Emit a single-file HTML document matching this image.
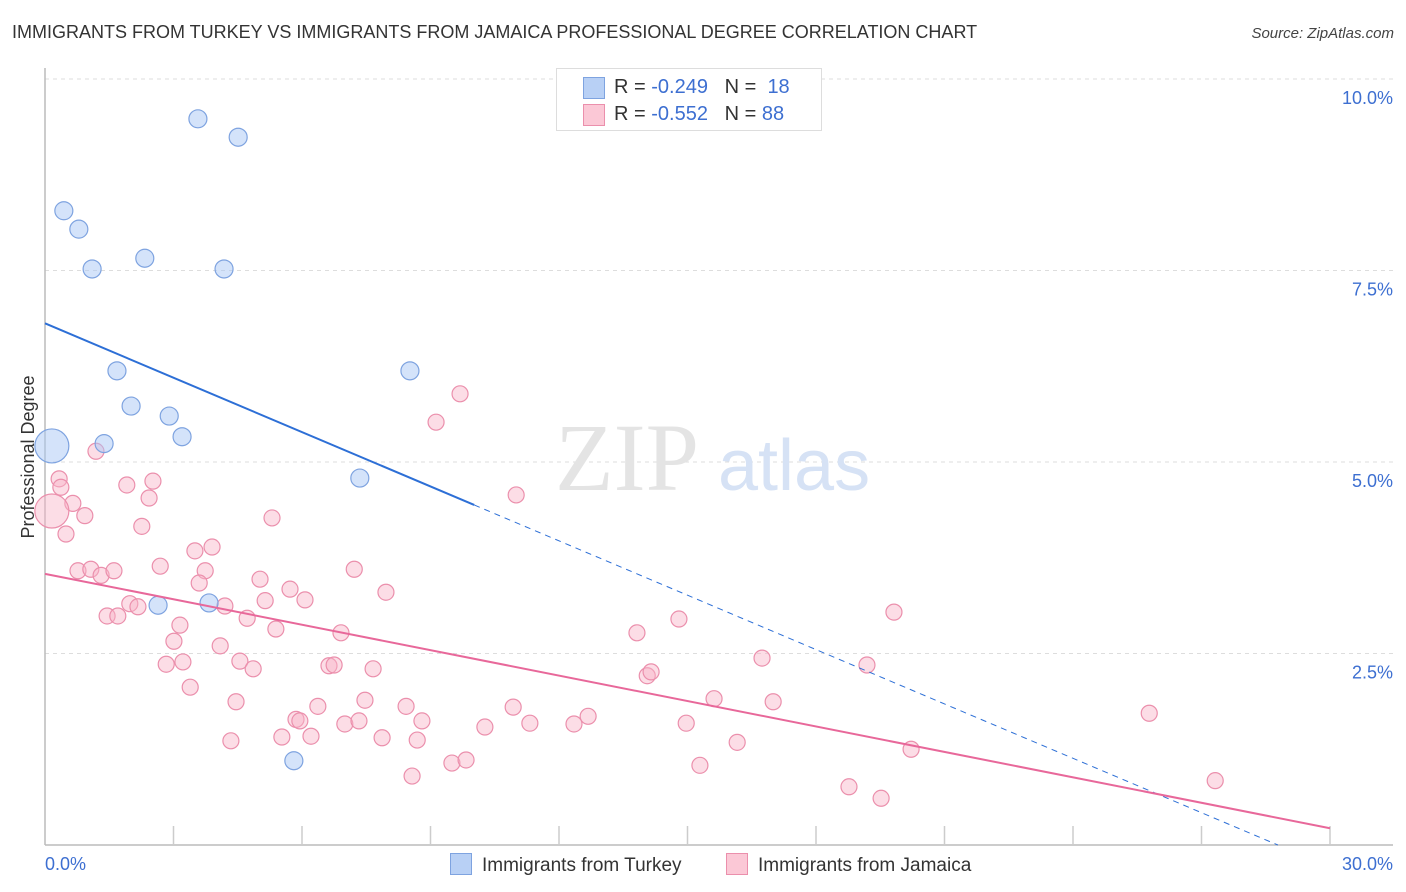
<!DOCTYPE html>
<html><head><meta charset="utf-8">
<style>
body{margin:0;background:#fff;font-family:"Liberation Sans",sans-serif;}
#wrap{position:relative;width:1406px;height:892px;overflow:hidden;}
.t{position:absolute;white-space:nowrap;}
</style></head>
<body>
<div id="wrap">
<div class="t" style="left:12px;top:22px;font-size:18px;color:#333;">IMMIGRANTS FROM TURKEY VS IMMIGRANTS FROM JAMAICA PROFESSIONAL DEGREE CORRELATION CHART</div>
<div class="t" style="right:12px;top:25px;font-size:15px;color:#444;font-style:italic;">Source: ZipAtlas.com</div>
<svg id="svg" width="1406" height="892" style="position:absolute;left:0;top:0"></svg>
</div>
<script>
const xTicks=[0,3,6,9,12,15,18,21,24,27,30];
const yTicks=[2.5,5,7.5,10];
const yTickLabels=["2.5%","5.0%","7.5%","10.0%"];
const turkeyX=[3.57,4.51,0.44,0.79,1.10,2.33,4.18,1.68,8.52,2.01,2.90,3.20,1.38,0.16,7.35,2.64,3.83,5.81];
const turkeyY=[9.48,9.24,8.28,8.04,7.52,7.66,7.52,6.19,6.19,5.73,5.60,5.33,5.24,5.21,4.79,3.13,3.16,1.10];
const turkeyR=[9,9,9,9,9,9,9,9,9,9,9,9,9,17,9,9,9,9];
const jamX=[9.69,9.13,11.00,1.19,0.33,0.37,2.52,1.91,2.43,0.65,0.93,2.26,0.49,5.30,3.50,3.90,0.77,1.07,1.31,1.61,2.69,3.74,3.60,5.02,5.72,7.22,7.96,6.07,5.14,1.98,2.17,4.20,1.45,1.70,4.72,3.15,5.39,6.91,3.01,4.09,2.83,3.22,4.55,4.86,6.63,6.75,7.66,3.39,4.46,7.47,6.37,8.43,10.93,8.80,5.86,5.95,7.00,7.33,10.27,11.32,12.35,12.68,4.34,5.53,6.21,7.87,8.69,8.57,9.50,9.83,13.82,14.80,14.06,14.15,16.74,19.19,19.82,15.62,17.00,14.97,16.16,15.29,20.22,18.77,19.52,25.78,27.32,0.16];
const jamY=[5.89,5.52,4.57,5.14,4.78,4.67,4.75,4.70,4.53,4.46,4.30,4.16,4.06,4.27,3.84,3.89,3.58,3.60,3.52,3.58,3.64,3.58,3.42,3.47,3.34,3.60,3.30,3.20,3.19,3.15,3.11,3.12,2.99,2.99,2.96,2.87,2.82,2.77,2.66,2.60,2.36,2.39,2.40,2.30,2.34,2.35,2.30,2.06,1.87,1.89,1.81,1.81,1.80,1.62,1.64,1.62,1.58,1.62,1.54,1.59,1.58,1.68,1.36,1.41,1.42,1.40,1.37,0.90,1.07,1.11,2.77,2.95,2.21,2.26,2.44,2.35,3.04,1.91,1.87,1.59,1.34,1.04,1.25,0.76,0.61,1.72,0.84,4.36];
const turkeyFit=[6.81,-0.2366];
const jamFit=[3.54,-0.1107];

const X0=45,X1=1330,Y0=845,YTOP=79;
const sx=v=>X0+(v/30)*(X1-X0);
const sy=v=>Y0-(v/10)*(Y0-YTOP);
const svg=document.getElementById('svg');
const NS='http://www.w3.org/2000/svg';
function mk(tag,attrs,parent){const e=document.createElementNS(NS,tag);for(const k in attrs)e.setAttribute(k,attrs[k]);(parent||svg).appendChild(e);return e;}

// gridlines and y labels
yTicks.forEach((v,i)=>{
  const g=mk('line',{x1:X0,x2:1393,y1:sy(v),y2:sy(v),stroke:'#ddd','stroke-dasharray':'4,4'});
  
  
  const t=mk('text',{x:1393,y:sy(v)+25,'text-anchor':'end','font-size':18,fill:'#3d6fd1','font-family':'Liberation Sans, sans-serif'});
  t.textContent=yTickLabels[i];
  
  
});
// watermark
const wm=mk('text',{x:555,y:490,'font-size':96,fill:'#e4e4e4','font-family':'Liberation Serif, serif'});wm.textContent='ZIP';


const wm2=mk('text',{x:718,y:490,'font-size':72,fill:'#d6e2f5','font-family':'Liberation Sans, sans-serif'});wm2.textContent='atlas';


// axes
const ya=mk('line',{x1:X0,x2:X0,y1:68,y2:Y0,stroke:'#bbb','stroke-width':1.5});


const xa=mk('line',{x1:X0,x2:1393,y1:Y0,y2:Y0,stroke:'#bbb','stroke-width':1.5});


xTicks.forEach(v=>{if(v===0)return;const tk=mk('line',{x1:sx(v),x2:sx(v),y1:826,y2:Y0,stroke:'#ccc','stroke-width':1.5});

});
const xl0=mk('text',{x:45,y:870,'font-size':18,fill:'#3d6fd1','font-family':'Liberation Sans, sans-serif'});xl0.textContent='0.0%';


const xl1=mk('text',{x:1393,y:870,'text-anchor':'end','font-size':18,fill:'#3d6fd1','font-family':'Liberation Sans, sans-serif'});xl1.textContent='30.0%';


const yt=mk('text',{x:34,y:457,'text-anchor':'middle','font-size':18,fill:'#333',transform:'rotate(-90 34 457)','font-family':'Liberation Sans, sans-serif'});yt.textContent='Professional Degree';



// points
jamX.forEach((x,i)=>{const c=mk('circle',{cx:sx(x),cy:sy(jamY[i]),r:i===jamX.length-1?17:8,fill:'rgba(248,180,200,0.45)',stroke:'#eb8fac','stroke-width':1.2});

});
turkeyX.forEach((x,i)=>{const c=mk('circle',{cx:sx(x),cy:sy(turkeyY[i]),r:turkeyR[i],fill:'rgba(170,200,245,0.5)',stroke:'#7ea3e0','stroke-width':1.2});

});

// fits
const tmax=Math.max(...turkeyX)+1.5;
const f=(fit,x)=>fit[0]+fit[1]*x;
const l1=mk('line',{x1:sx(0),y1:sy(f(turkeyFit,0)),x2:sx(tmax),y2:sy(f(turkeyFit,tmax)),stroke:'#2d6fd6','stroke-width':2});


const xz=-turkeyFit[0]/turkeyFit[1];
const l2=mk('line',{x1:sx(tmax),y1:sy(f(turkeyFit,tmax)),x2:sx(xz),y2:sy(0),stroke:'#2d6fd6','stroke-width':1,'stroke-dasharray':'6,5'});


const l3=mk('line',{x1:sx(0),y1:sy(f(jamFit,0)),x2:sx(30),y2:sy(f(jamFit,30)),stroke:'#e8689a','stroke-width':2});


</script>
<div class="t" style="left:556px;top:68px;width:264px;height:61px;border:1px solid #ddd;background:#fff;font-size:20px;color:#333;">
  <div style="position:absolute;left:26px;top:8px;width:20px;height:20px;background:#b8d0f5;border:1px solid #7ea3e0;"></div>
  <div style="position:absolute;left:57px;top:7px;">R = <span style="color:#3d6fd1">-0.249</span>&nbsp;&nbsp;&nbsp;N = &nbsp;<span style="color:#3d6fd1">18</span></div>
  <div style="position:absolute;left:26px;top:35px;width:20px;height:20px;background:#fbc8d6;border:1px solid #eb8fac;"></div>
  <div style="position:absolute;left:57px;top:34px;">R = <span style="color:#3d6fd1">-0.552</span>&nbsp;&nbsp;&nbsp;N = <span style="color:#3d6fd1">88</span></div>
</div>
<div class="t" style="left:450px;top:853px;font-size:19px;color:#333;">
  <span style="display:inline-block;width:20px;height:20px;background:#b8d0f5;border:1px solid #7ea3e0;vertical-align:-4px;margin-right:10px;"></span>Immigrants from Turkey</div>
<div class="t" style="left:726px;top:853px;font-size:19px;color:#333;">
  <span style="display:inline-block;width:20px;height:20px;background:#fbc8d6;border:1px solid #eb8fac;vertical-align:-4px;margin-right:10px;"></span>Immigrants from Jamaica</div>
</body></html>
